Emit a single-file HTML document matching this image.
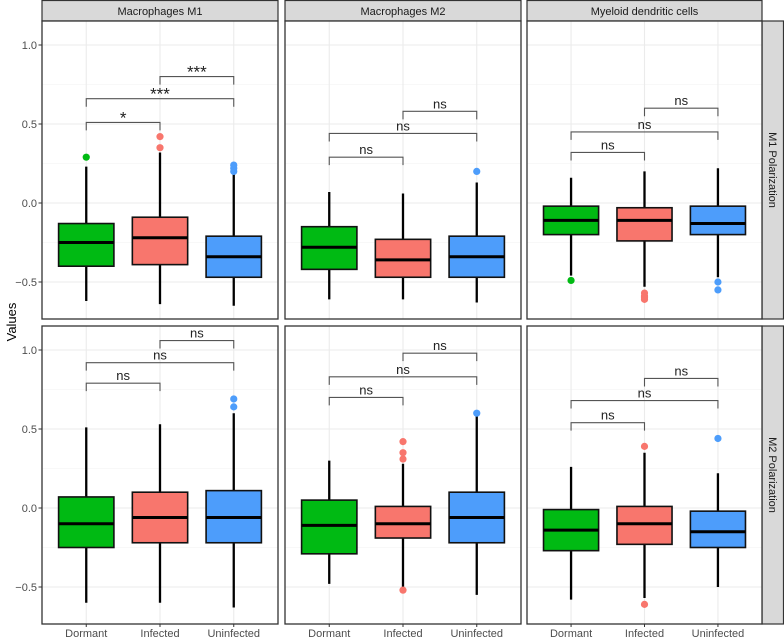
<!DOCTYPE html>
<html><head><meta charset="utf-8"><style>
body{margin:0;background:#fff;}
svg{display:block;font-family:"Liberation Sans",sans-serif;}
</style></head><body>
<svg id="chart" width="784" height="640" xmlns="http://www.w3.org/2000/svg"></svg>
<script>
const categories = ["Dormant","Infected","Uninfected"];
const colNames = ["Macrophages M1","Macrophages M2","Myeloid dendritic cells"];
const rowNames = ["M1 Polarization","M2 Polarization"];
const yTicks = [1.0,0.5,0.0,-0.5];
const yTickLabels = ["1.0","0.5","0.0","-0.5"];
const yMinor = [0.75,0.25,-0.25];
// [low, q1, median, q3, high] per panel (row-major), per category
const statsR1C1 = [[-0.62,-0.40,-0.25,-0.13,0.23],[-0.64,-0.39,-0.22,-0.09,0.32],[-0.65,-0.47,-0.34,-0.21,0.18]];
const statsR1C2 = [[-0.61,-0.42,-0.28,-0.15,0.07],[-0.61,-0.47,-0.36,-0.23,0.06],[-0.63,-0.47,-0.34,-0.21,0.13]];
const statsR1C3 = [[-0.46,-0.20,-0.11,-0.02,0.16],[-0.53,-0.24,-0.11,-0.03,0.20],[-0.47,-0.20,-0.13,-0.02,0.22]];
const statsR2C1 = [[-0.60,-0.25,-0.10,0.07,0.51],[-0.60,-0.22,-0.06,0.10,0.53],[-0.63,-0.22,-0.06,0.11,0.60]];
const statsR2C2 = [[-0.48,-0.29,-0.11,0.05,0.30],[-0.50,-0.19,-0.10,0.01,0.28],[-0.55,-0.22,-0.06,0.10,0.58]];
const statsR2C3 = [[-0.58,-0.27,-0.14,-0.01,0.26],[-0.57,-0.23,-0.10,0.01,0.35],[-0.50,-0.25,-0.15,-0.02,0.22]];
const outR1C1 = [[0.29],[0.42,0.35],[0.24,0.22,0.20]];
const outR1C2 = [[],[],[0.20]];
const outR1C3 = [[-0.49],[-0.57,-0.59,-0.60,-0.61],[-0.50,-0.55]];
const outR2C1 = [[],[],[0.69,0.64]];
const outR2C2 = [[],[0.42,0.35,0.31,-0.52],[0.60]];
const outR2C3 = [[],[0.39,-0.61],[0.44]];
// brackets heights: [D-I, D-U, I-U]
const brkR1C1 = [0.51,0.66,0.80];
const brkR1C2 = [0.29,0.44,0.58];
const brkR1C3 = [0.32,0.45,0.60];
const brkR2C1 = [0.79,0.92,1.06];
const brkR2C2 = [0.70,0.83,0.98];
const brkR2C3 = [0.54,0.68,0.82];
const sigR1C1 = ["*","***","***"];
const sigOther = ["ns","ns","ns"];

const stats=[[statsR1C1,statsR1C2,statsR1C3],[statsR2C1,statsR2C2,statsR2C3]];
const outs=[[outR1C1,outR1C2,outR1C3],[outR2C1,outR2C2,outR2C3]];
const brks=[[brkR1C1,brkR1C2,brkR1C3],[brkR2C1,brkR2C2,brkR2C3]];
const fills=["#00ba13","#f8766d","#4d9dfb"];
const colX=[[42,278],[285,521],[527,762]];
const rowY=[[21,319],[326,624]];
const zeroY=[203,508], unit=158;
const svg=document.getElementById('chart');
const NS='http://www.w3.org/2000/svg';
function mk(tag,attrs,parent){const e=document.createElementNS(NS,tag);for(const k in attrs)e.setAttribute(k,attrs[k]);(parent||svg).appendChild(e);return e;}
function yS(r,v){return zeroY[r]-v*unit;}
function xS(c,i){const [a,b]=colX[c];return a+(0.6+i)/3.2*(b-a);}

// strips
colNames.forEach((n,c)=>{
  const g=mk('g',{});
  
  
  mk('rect',{x:colX[c][0],y:0.5,width:colX[c][1]-colX[c][0],height:20.5,fill:'#d9d9d9',stroke:'#333','stroke-width':1.2},g);
  const t=mk('text',{x:(colX[c][0]+colX[c][1])/2,y:15,'text-anchor':'middle','font-size':11,fill:'#1a1a1a'},g);t.textContent=n;
});
rowNames.forEach((n,r)=>{
  const g=mk('g',{});
  
  
  mk('rect',{x:762,y:rowY[r][0],width:21.5,height:rowY[r][1]-rowY[r][0],fill:'#d9d9d9',stroke:'#333','stroke-width':1.2},g);
  const cy=(rowY[r][0]+rowY[r][1])/2;
  const t=mk('text',{x:769,y:cy,'text-anchor':'middle','font-size':11,fill:'#1a1a1a',transform:`rotate(90 769 ${cy})`},g);t.textContent=n;
});

for(let r=0;r<2;r++)for(let c=0;c<3;c++){
  const p=mk('g',{});
  
  
  const [x0,x1]=colX[c],[y0,y1]=rowY[r];
  mk('rect',{x:x0,y:y0,width:x1-x0,height:y1-y0,fill:'#fff'},p);
  yMinor.forEach(v=>mk('line',{x1:x0,x2:x1,y1:yS(r,v),y2:yS(r,v),stroke:'#f2f2f2','stroke-width':0.6},p));
  yTicks.forEach(v=>mk('line',{x1:x0,x2:x1,y1:yS(r,v),y2:yS(r,v),stroke:'#ebebeb','stroke-width':1.1},p));
  categories.forEach((k,i)=>mk('line',{x1:xS(c,i),x2:xS(c,i),y1:y0,y2:y1,stroke:'#ebebeb','stroke-width':1.1},p));
  const bw=0.75*(x1-x0)/3.2;
  stats[r][c].forEach((s,i)=>{
    const x=xS(c,i);
    const b=mk('g',{},p);
    
    
    mk('line',{x1:x,x2:x,y1:yS(r,s[4]),y2:yS(r,s[0]),stroke:'#000','stroke-width':2.3},b);
    mk('rect',{x:x-bw/2,y:yS(r,s[3]),width:bw,height:yS(r,s[1])-yS(r,s[3]),fill:fills[i],stroke:'#111','stroke-width':1.6},b);
    mk('line',{x1:x-bw/2,x2:x+bw/2,y1:yS(r,s[2]),y2:yS(r,s[2]),stroke:'#000','stroke-width':3},b);
    outs[r][c][i].forEach(v=>{
      const o=mk('circle',{cx:x,cy:yS(r,v),r:3.6,fill:fills[i]},b);
      
      
    });
  });
  const pairs=[[0,1],[0,2],[1,2]];
  const sig=(r===0&&c===0)?sigR1C1:sigOther;
  pairs.forEach((pr,j)=>{
    const g=mk('g',{},p);
    
    
    const by=yS(r,brks[r][c][j]),xa=xS(c,pr[0]),xb=xS(c,pr[1]);
    mk('path',{d:`M${xa},${by+8}V${by}H${xb}V${by+8}`,fill:'none',stroke:'#555','stroke-width':1.1},g);
    const star=sig[j]!=='ns';
    const t=mk('text',{x:(xa+xb)/2,y:star?by+1:by-3,'text-anchor':'middle','font-size':star?17:13,fill:'#222'},g);
    t.textContent=sig[j];
  });
  mk('rect',{x:x0,y:y0,width:x1-x0,height:y1-y0,fill:'none',stroke:'#333','stroke-width':1.3},p);
}
// y axis ticks
for(let r=0;r<2;r++){
  const g=mk('g',{});
  
  
  yTicks.forEach((v,k)=>{
    mk('line',{x1:38.5,x2:42,y1:yS(r,v),y2:yS(r,v),stroke:'#333','stroke-width':1},g);
    const t=mk('text',{x:37,y:yS(r,v)+4,'text-anchor':'end','font-size':11,fill:'#4d4d4d'},g);t.textContent=yTickLabels[k].replace('-','\u2212');
  });
}
// x axis labels
for(let c=0;c<3;c++){
  const g=mk('g',{});
  
  
  categories.forEach((k,i)=>{
    mk('line',{x1:xS(c,i),x2:xS(c,i),y1:624,y2:627,stroke:'#333','stroke-width':1},g);
    const t=mk('text',{x:xS(c,i),y:637,'text-anchor':'middle','font-size':11,fill:'#4d4d4d'},g);t.textContent=k;
  });
}
const yt=mk('text',{x:16,y:322,'text-anchor':'middle','font-size':13,fill:'#000',transform:'rotate(-90 16 322)'});


yt.textContent='Values';
</script>
</body></html>
